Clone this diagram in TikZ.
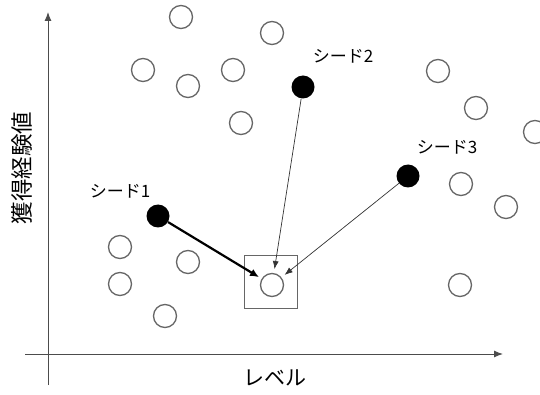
\documentclass[tikz,border=0pt]{standalone}
\usepackage{fontspec}
\newfontfamily\jfont{Noto Sans CJK JP}
\usetikzlibrary{arrows.meta}
\begin{document}
\begin{tikzpicture}[x=1pt,y=-1pt,
  opencirc/.style={circle,draw=black!60,line width=1.3pt,minimum size=23pt,inner sep=0pt,fill=white},
  seedcirc/.style={circle,fill=black,minimum size=23pt,inner sep=0pt},
  seedlabel/.style={font=\jfont\fontsize{17}{17}\selectfont,inner sep=0pt},
  axislabel/.style={font=\jfont\fontsize{21}{21}\selectfont,inner sep=0pt},
  axislabely/.style={font=\jfont\fontsize{22.5}{22.5}\selectfont,inner sep=0pt},
  axisline/.style={draw=black!70,line width=1pt,-{Latex[length=9pt,width=7pt]}},
  thinarrow/.style={draw=black!80,line width=0.7pt,-{Latex[length=8pt,width=6pt]},shorten >=4pt},
  thickarrow/.style={draw=black,line width=2.2pt,-{Latex[length=9pt,width=8pt]},shorten >=3pt},
  selbox/.style={draw=black!60,line width=1pt,minimum size=53pt,inner sep=0pt}
]
\useasboundingbox (0,0) rectangle (540,395);
% axes
\coordinate (xs) at (25,354);
\coordinate (xe) at (503,354);
\coordinate (ys) at (48,385);
\coordinate (ye) at (48,12);
\draw[axisline] (xs) -- (xe);
\draw[axisline] (ys) -- (ye);
\node[axislabel] (xlab) at (275,378) {レベル};
\node[axislabely,rotate=90] (ylab) at (22,168) {獲得経験値};
% open circles
\node[opencirc] (c1) at (181,17) {};
\node[opencirc] (c2) at (272,33) {};
\node[opencirc] (c3) at (143,70) {};
\node[opencirc] (c4) at (188,86) {};
\node[opencirc] (c5) at (233,70) {};
\node[opencirc] (c6) at (438,71) {};
\node[opencirc] (c7) at (476,108) {};
\node[opencirc] (c8) at (241,123) {};
\node[opencirc] (c9) at (535,132) {};
\node[opencirc] (c10) at (461,184) {};
\node[opencirc] (c11) at (506,207) {};
\node[opencirc] (c12) at (120,247) {};
\node[opencirc] (c13) at (188,262) {};
\node[opencirc] (c14) at (120,284) {};
\node[opencirc] (c15) at (165,316) {};
\node[opencirc] (c16) at (460,285) {};
% target
\node[selbox] (box) at (271,282) {};
\node[opencirc] (tgt) at (272,285) {};
% seeds
\node[seedcirc] (s1) at (158,216) {};
\node[seedcirc] (s2) at (303,87) {};
\node[seedcirc] (s3) at (408,176) {};
\node[seedlabel] (l1) at (120,191) {シード1};
\node[seedlabel] (l2) at (343,56) {シード2};
\node[seedlabel] (l3) at (447,147) {シード3};
% arrows
\draw[thickarrow] (s1) -- (tgt);
\draw[thinarrow] (s2) -- (tgt);
\draw[thinarrow] (s3) -- (tgt);
\end{tikzpicture}
\end{document}
